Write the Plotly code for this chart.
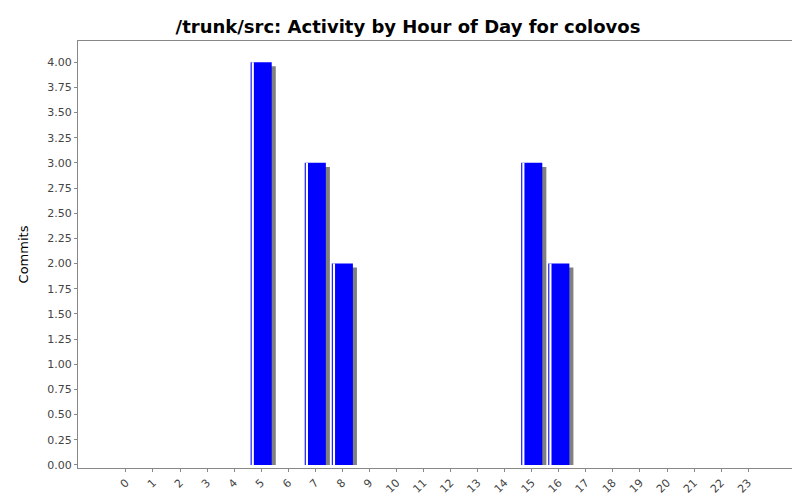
import plotly.graph_objects as go

hours = [str(h) for h in range(24)]
commits = [0, 0, 0, 0, 0, 4, 0, 3, 2, 0, 0, 0, 0, 0, 0, 3, 2, 0, 0, 0, 0, 0, 0, 0]
xs = list(range(24))

fig = go.Figure()
# drop shadow
fig.add_trace(go.Bar(x=xs, y=[c - 0.04 if c else 0 for c in commits], width=0.78,
                     offset=-0.39 + 0.15, marker=dict(color="#808080", line_width=0),
                     showlegend=False, hoverinfo="skip"))
# main bars
fig.add_trace(go.Bar(x=xs, y=commits, width=0.78, offset=-0.39,
                     marker=dict(color="#0000ff", line_width=0), showlegend=False))
# light highlight stripe
fig.add_trace(go.Bar(x=xs, y=commits, width=0.08, offset=-0.35,
                     marker=dict(color="#ffffff", line_width=0),
                     showlegend=False, hoverinfo="skip"))

fig.update_layout(
    width=800, height=500, barmode="overlay",
    title=dict(text="<b>/trunk/src: Activity by Hour of Day for colovos</b>",
               x=0.5, y=0.975, font=dict(family="DejaVu Sans", size=18, color="black")),
    paper_bgcolor="white", plot_bgcolor="white",
    margin=dict(l=70, r=12, t=33, b=35),
    font=dict(family="DejaVu Sans", size=11, color="#444"),
)
fig.update_xaxes(range=[-1.77, 24.73], tickvals=xs, ticktext=hours, tickangle=-45,
                 showgrid=False, zeroline=False, showline=True, linecolor="#888",
                 mirror=True, ticks="outside", ticklen=3, tickcolor="#888")
fig.update_yaxes(range=[-0.03, 4.21], dtick=0.25, tickformat=".2f",
                 title=dict(text="Commits", font=dict(size=13, color="black")),
                 showgrid=False, zeroline=False, showline=True, linecolor="#888",
                 mirror=True, ticks="outside", ticklen=3, tickcolor="#888")

fig.write_html("out.html")
